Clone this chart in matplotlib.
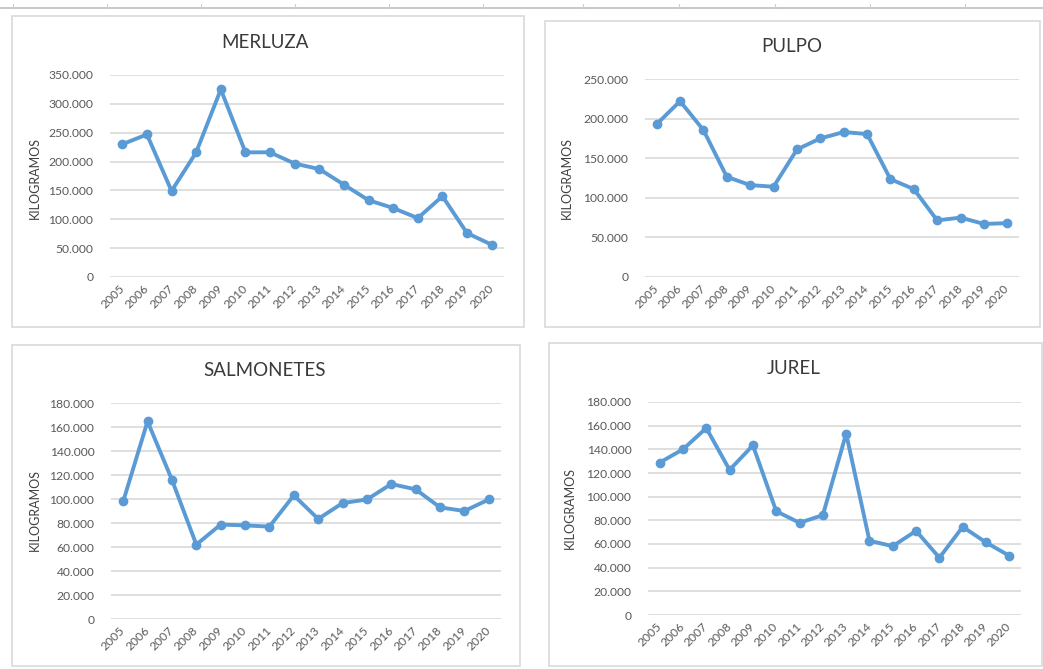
import matplotlib
matplotlib.use("Agg")
import matplotlib.pyplot as plt
from matplotlib.patches import Rectangle
from matplotlib.lines import Line2D
from matplotlib.ticker import FuncFormatter

W, H = 1043, 669

years = [str(y) for y in range(2005, 2021)]

merluza = [230000, 247000, 149000, 216000, 325000, 216000, 216000, 196500,
           187000, 160000, 133000, 119500, 102000, 140000, 76000, 56000]
pulpo = [193000, 222000, 185500, 126500, 116000, 114000, 161000, 175000,
         183000, 180500, 123500, 111000, 71500, 75000, 67000, 68000]
salmonetes = [98000, 164700, 116000, 62000, 78700, 78000, 77000, 103000,
              83400, 96600, 99600, 112500, 108000, 93000, 90000, 99600]
jurel = [128800, 140000, 158000, 122600, 143400, 87700, 77900, 84400,
         153300, 62700, 58200, 71100, 48400, 74500, 61300, 50000]

titles = ["MERLUZA", "PULPO", "SALMONETES", "JUREL"]
series = [merluza, pulpo, salmonetes, jurel]
y_max = [350000, 250000, 180000, 180000]
y_step = [50000, 50000, 20000, 20000]

# layout in pixels (x0, y0, x1, y1), y measured from the top
boxes = [(12, 16, 524, 327), (545, 21, 1040, 327),
         (12, 345, 520, 666), (549, 343, 1042, 666)]
plot_areas = [(110, 75, 504, 277), (645, 79, 1019, 277),
              (111, 403, 501, 619), (648, 402, 1021, 615)]
title_pos = [(265, 43), (792, 46), (265, 371), (794, 368)]
ylabel_pos = [(35, 178), (567, 178), (35, 510), (570, 508)]

BLUE = "#5B9BD5"
GRID = "#d9d9d9"
TEXT = "#595959"
FONT = ["Lato", "DejaVu Sans"]


def fig_rect(x0, y0, x1, y1):
    return [x0 / W, 1 - y1 / H, (x1 - x0) / W, (y1 - y0) / H]


fmt = FuncFormatter(lambda v, p: f"{int(round(v)):,}".replace(",", "."))

fig = plt.figure(figsize=(W / 100, H / 100), dpi=100)
fig.patch.set_facecolor("white")

# spreadsheet header line at the very top
fig.add_artist(Line2D([0, 1], [1 - 8 / H, 1 - 8 / H], color="#bfbfbf", lw=1.2,
                      transform=fig.transFigure))
for tx in [13, 107, 201, 295, 389, 483, 583, 679, 775, 870, 965]:
    fig.add_artist(Line2D([tx / W, tx / W], [1 - 8 / H, 1 - 4 / H], color="#cfcfcf",
                          lw=0.8, transform=fig.transFigure))

for i in range(4):
    bx0, by0, bx1, by1 = boxes[i]
    fig.add_artist(Rectangle((bx0 / W, 1 - by1 / H), (bx1 - bx0) / W, (by1 - by0) / H,
                             transform=fig.transFigure, fill=False,
                             edgecolor=GRID, lw=1.2))

    ax = fig.add_axes(fig_rect(*plot_areas[i]))
    x = list(range(len(years)))
    ax.plot(x, series[i], color=BLUE, lw=2.8, marker="o", markersize=6,
            solid_joinstyle="round", clip_on=False, zorder=3)
    ax.set_xlim(-0.5, len(years) - 0.5)
    ax.set_ylim(0, y_max[i])
    ax.set_yticks(range(0, y_max[i] + 1, y_step[i]))
    ax.yaxis.set_major_formatter(fmt)
    ax.yaxis.grid(True, color=GRID, lw=1.2)
    ax.set_axisbelow(True)
    for s in ax.spines.values():
        s.set_visible(False)
    ax.tick_params(axis="both", length=0, colors=TEXT, labelsize=8.7)
    ax.tick_params(axis="y", pad=12)
    for lab in ax.get_yticklabels():
        lab.set_family(FONT)
    ax.set_xticks(x)
    ax.set_xticklabels(years, rotation=45, ha="right", va="center",
                       rotation_mode="anchor", family=FONT, fontsize=8.7, color=TEXT)
    ax.tick_params(axis="x", pad=7)

    tx, ty = title_pos[i]
    fig.text(tx / W, 1 - ty / H, titles[i], ha="center", va="center",
             fontsize=13.5, color="#3a3a3a", family=FONT)
    lx, ly = ylabel_pos[i]
    fig.text(lx / W, 1 - ly / H, "KILOGRAMOS", ha="center", va="center",
             rotation=90, fontsize=9, color="#404040", family=FONT)

fig.savefig("out.png", dpi=100, facecolor="white")
